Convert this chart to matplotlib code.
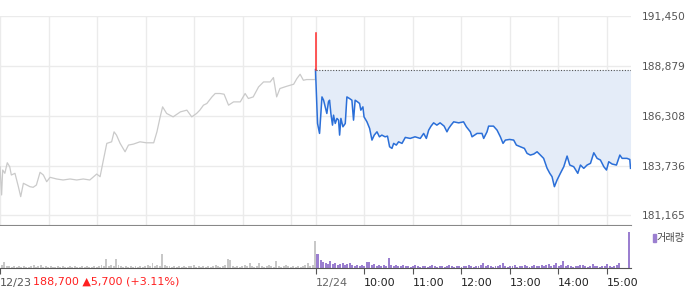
import numpy as np
import matplotlib.pyplot as plt
from matplotlib.patches import Rectangle

# time axis: minutes from 12/23 09:00, the two sessions joined (12/24 09:00 = 390)
prev_time = [0, 2, 3.3, 6, 9, 12, 14, 18.5, 22.7, 25.6, 28.9, 33, 37, 41, 45, 49.5, 53.6,
             57.7, 61.9, 70, 78, 86.6, 94.8, 103, 111, 119.6, 123.7, 127.8, 132, 138, 141,
             144, 148.5, 154.6, 158.8, 165, 173, 181, 190, 194, 198, 201, 206, 214, 223,
             231, 237, 243, 247, 251.5, 255.7, 262, 266, 272, 277, 282.5, 288.7, 297, 303,
             307, 313, 319.6, 325.8, 334, 338, 342, 346, 354.6, 363, 367, 371, 375, 379,
             389.7, 390]
prev_price = [183675, 182214, 183504, 183333, 183880, 183675, 183246, 183333, 182642,
              182126, 182817, 182729, 182642, 182610, 182729, 183385, 183246, 182900,
              183127, 183040, 182988, 183040, 182988, 183040, 182988, 183297, 183158,
              184020, 184881, 184963, 185479, 185310, 184881, 184448, 184794, 184845,
              184963, 184912, 184912, 185479, 186253, 186770, 186429, 186253, 186512,
              186600, 186253, 186429, 186600, 186858, 186945, 187285, 187461, 187461,
              187425, 186858, 187028, 187028, 187461, 187203, 187285, 187801, 188060,
              188060, 188287, 187285, 187719, 187838, 187941, 188235, 188457, 188147,
              188183, 188183, 188700]

today_time = [390, 392.5, 395, 398, 400, 402, 404, 406, 407.4, 409, 411, 412.3, 414.4,
              416.5, 418.5, 419.8, 421.4, 423.9, 426.8, 428.8, 432, 435, 437, 439, 442,
              444.5, 446, 448.6, 450, 453.6, 456.9, 459.8, 462.6, 466, 469, 472, 476, 479,
              481.6, 484.5, 486.6, 489.9, 492.7, 496.9, 501, 507, 513, 519.5, 523.7, 527,
              529.9, 532.8, 536, 540, 544, 549, 552.5, 554.6, 557.5, 560.8, 567, 573,
              576.5, 581.4, 583.5, 589.7, 595.8, 597.9, 602, 604, 610, 614.4, 618.5,
              621.8, 624.7, 630, 635, 638.3, 643.3, 648.2, 651.5, 655.6, 659.8, 663.9,
              668, 672, 676.3, 679.6, 682.4, 685.3, 688.6, 692.7, 696.9, 701, 704.3,
              709.2, 714.2, 717.5, 721.6, 725.7, 729.9, 734, 738.1, 742.2, 746.4, 749.7,
              752.5, 756.7, 762, 766.2, 769, 775, 778.5, 779.4]
today_price = [188700, 185913, 185397, 187285, 187115, 186770, 186429, 187028, 187115,
               186429, 185826, 186341, 185913, 186172, 186084, 185310, 186172, 185740,
               185913, 187285, 187203, 187115, 186084, 187115, 187028, 186945, 186600,
               186770, 186253, 185996, 185655, 185052, 185310, 185480, 185222, 185310,
               185222, 185257, 184706, 184623, 184881, 184794, 184963, 184881, 185190,
               185138, 185222, 185138, 185397, 185138, 185568, 185774, 185944, 185826,
               185944, 185774, 185480, 185655, 185826, 185996, 185944, 185996, 185738,
               185480, 185222, 185397, 185397, 185138, 185480, 185774, 185774, 185568,
               185222, 184881, 185052, 185086, 185052, 184794, 184706, 184623, 184365,
               184277, 184330, 184448, 184277, 184107, 183591, 183333, 183158, 182642,
               182988, 183333, 183675, 184226, 183761, 183675, 183333, 183761, 183591,
               183761, 183850, 184396, 184107, 184020, 183675, 183504, 183932, 183813,
               183761, 184277, 184107, 184107, 184050, 183591]

open_high = 190608
prev_close = 188700

# volume, one bar per 3 minutes
vol_prev = [3, 6, 2, 2, 1, 2, 1, 2, 1, 2, 1, 1, 2, 3, 1, 2, 3, 1, 2, 1, 2, 1, 1, 2, 1, 2,
            1, 1, 2, 1, 2, 1, 1, 2, 1, 2, 1, 1, 2, 1, 2, 3, 2, 9, 2, 3, 2, 9, 3, 2, 1, 2,
            1, 2, 1, 2, 1, 2, 1, 2, 3, 2, 5, 2, 3, 2, 14, 3, 2, 2, 1, 2, 1, 2, 1, 2, 1, 2,
            2, 3, 1, 2, 1, 2, 1, 2, 1, 2, 3, 2, 1, 2, 3, 9, 8, 2, 1, 2, 1, 2, 3, 2, 5, 2,
            1, 2, 5, 2, 1, 2, 3, 2, 1, 7, 2, 1, 2, 3, 2, 1, 2, 1, 2, 1, 2, 3, 5, 2, 3, 27]
vol_today = [14, 14, 8, 6, 5, 4, 7, 4, 5, 3, 4, 5, 3, 4, 5, 3, 2, 3, 2, 3, 2, 6, 6, 3, 4,
             2, 3, 2, 3, 2, 10, 3, 2, 3, 2, 2, 3, 2, 2, 1, 2, 3, 2, 1, 2, 2, 1, 2, 3, 2,
             1, 2, 2, 1, 2, 3, 2, 1, 2, 2, 1, 2, 2, 3, 2, 1, 2, 2, 3, 5, 2, 3, 2, 1, 2, 2,
             3, 5, 2, 1, 2, 2, 3, 1, 2, 2, 3, 2, 1, 2, 3, 2, 2, 3, 2, 3, 4, 2, 3, 5, 2, 3,
             7, 2, 3, 2, 1, 2, 2, 3, 3, 2, 1, 2, 4, 2, 2, 1, 2, 2, 4, 2, 1, 2, 3, 5, 0, 0,
             0, 36]

price_ticks = [181165, 183736, 186308, 188879, 191450]
grid_minutes = [0, 60, 120, 180, 240, 300, 360, 390, 450, 510, 570, 630, 690, 750]
axis_ticks = [0, 390, 450, 510, 570, 630, 690, 750]
axis_labels = ['12/23', '12/24', '10:00', '11:00', '12:00', '13:00', '14:00', '15:00']

W, H = 700, 289
fig = plt.figure(figsize=(W / 100, H / 100), dpi=100)
ax = fig.add_axes([0, 1 - 225 / H, 631 / W, 209 / H])
axv = fig.add_axes([0, 1 - 268 / H, 631 / W, 42 / H])

# price panel
ax.fill_between(today_time, today_price, prev_close, color='#e4ecf8', lw=0)
ax.plot(prev_time, prev_price, color='#cacaca', lw=0.9)
ax.plot(today_time, today_price, color='#2b6fd8', lw=1.1)
ax.plot([390, 390], [prev_close, open_high], color='#ff2a2a', lw=1.1)
ax.plot([390, 780], [prev_close, prev_close], color='#555555', lw=0.8, ls=(0, (1, 1.5)))

ax.set_xlim(0, 780)
ax.set_ylim(180660, 191470)
ax.set_xticks(grid_minutes)
ax.set_yticks(price_ticks)
ax.set_yticklabels([f'{v:,}' for v in price_ticks])
ax.grid(color='#ebebeb', lw=1)
ax.set_axisbelow(True)
ax.yaxis.tick_right()
ax.tick_params(axis='x', length=0, labelbottom=False)
ax.tick_params(axis='y', length=0, pad=8, labelsize=7.7, labelcolor='#555555')
for s in ['top', 'left', 'right']:
    ax.spines[s].set_visible(False)
ax.spines['bottom'].set_color('#888888')

# volume panel
t_prev = np.arange(len(vol_prev)) * 3 + 2.5
t_today = np.arange(len(vol_today)) * 3 + 390.5
axv.bar(t_today, vol_today, width=2.4, color='#9b7fd0', lw=0)
axv.bar(t_prev, vol_prev, width=2.4, color='#c8c8c8', lw=0)
axv.set_xlim(0, 780)
axv.set_ylim(0, 42)
axv.set_yticks([])
axv.set_xticks(axis_ticks)
axv.set_xticklabels(axis_labels, ha='left')
axv.tick_params(axis='x', length=4, pad=3, labelsize=8, color='#555555')
for lab, c in zip(axv.get_xticklabels(), ['#555555', '#666666'] + ['#222222'] * 6):
    lab.set_color(c)
for s in ['top', 'left', 'right']:
    axv.spines[s].set_visible(False)
axv.spines['bottom'].set_color('#555555')

fig.text(33 / W, 1 - 282 / H, '188,700 ▲5,700 (+3.11%)', color='#ff2020',
         fontsize=8, va='center')

# volume legend
fig.add_artist(Rectangle((653 / W, 1 - 242 / H), 2.5 / W, 8 / H,
                         transform=fig.transFigure, color='#9b7fd0'))
fig.text(657 / W, 1 - 238 / H, '거래량', family=['Noto Sans CJK KR', 'DejaVu Sans'],
         fontsize=7.3, color='#444444', va='center')

fig.savefig('out.png', dpi=100)
